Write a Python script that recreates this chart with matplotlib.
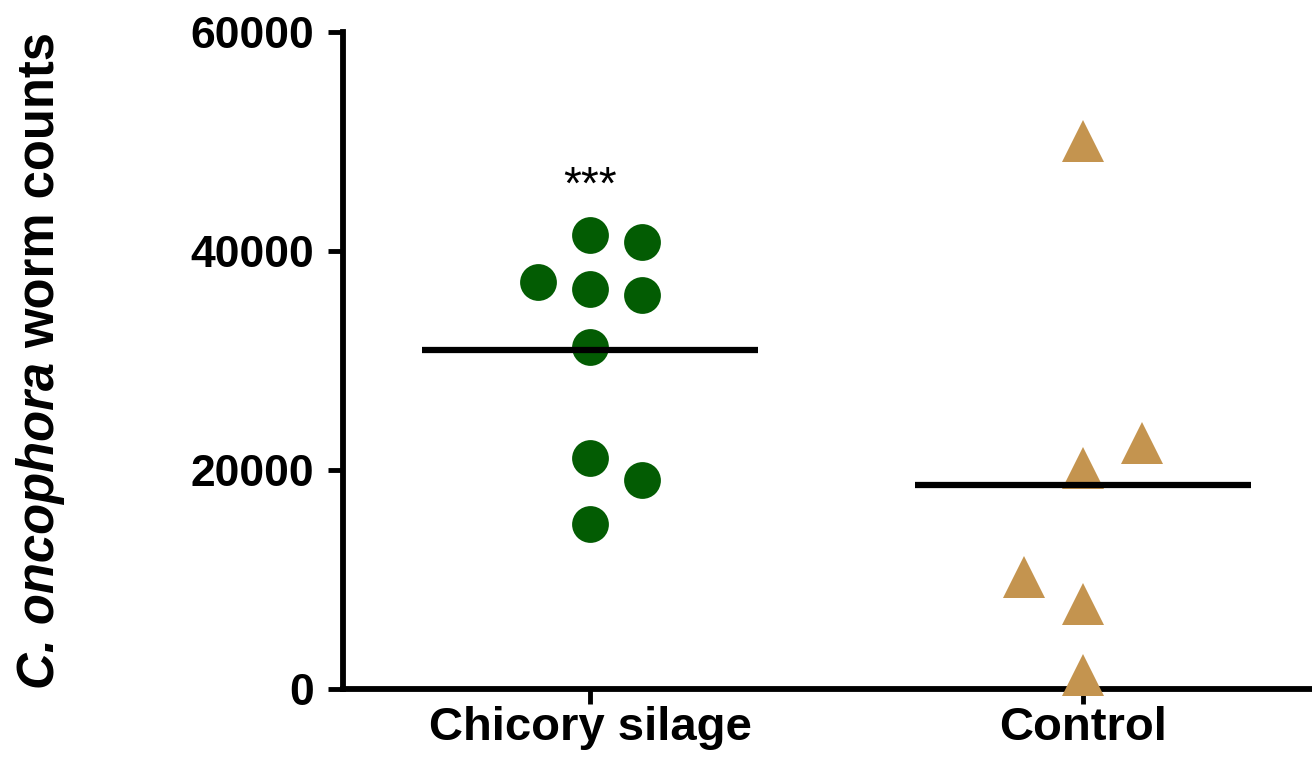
import matplotlib
matplotlib.use("Agg")
import matplotlib.pyplot as plt
import numpy as np

# ---- data ----
categories = ["Chicory silage", "Control"]
chicory_counts = [41400, 40800, 37100, 36500, 36000, 31200, 21100, 19100, 15100]
control_counts = [50000, 22450, 20200, 10200, 7750, 1250]
# column slot of each point in the scatter (beeswarm-like arrangement)
chicory_slots = [0, 1, -1, 0, 1, 0, 0, 1, 0]
control_slots = [0, 1, 0, -1, 0, 0]
yticks = [0, 20000, 40000, 60000]
signif_label = "***"

FONT = "Liberation Sans"
plt.rcParams["font.family"] = [FONT, "DejaVu Sans"]

W, H = 1312, 757
fig = plt.figure(figsize=(W / 100, H / 100), dpi=100)
ax = fig.add_axes([343 / W, 1 - 689 / H, 969 / W, 657.5 / H])

green = "#035c03"
tan = "#c4944f"

groups = [
    (chicory_counts, chicory_slots, "o", 26.5, green, 0.106),
    (control_counts, control_slots, "^", 30.0, tan, 0.119),
]
for i, (vals, slots, mk, ms, col, spacing) in enumerate(groups):
    xs = i + np.array(slots) * spacing
    ax.plot(xs, vals, linestyle="none", marker=mk, markersize=ms,
            color=col, markeredgewidth=0, zorder=3, clip_on=False)
    m = np.mean(vals)
    ax.plot([i - 0.34, i + 0.34], [m, m], color="black", lw=4.5,
            solid_capstyle="butt", zorder=4, clip_on=False)

ax.text(0, 44700, signif_label, ha="center", va="baseline",
        fontsize=33, color="black")

ax.set_xlim(-0.501, 1.4645)
ax.set_ylim(0, 60000)
ax.set_xticks([0, 1])
ax.set_xticklabels(categories, fontsize=34, fontweight="bold")
ax.set_yticks(yticks)
ax.set_yticklabels([str(v) for v in yticks], fontsize=32, fontweight="bold")

for s in ["top", "right"]:
    ax.spines[s].set_visible(False)
for s in ["left", "bottom"]:
    ax.spines[s].set_linewidth(4.2)
    ax.spines[s].set_capstyle("projecting")
ax.tick_params(axis="y", length=11, width=3.5, pad=10, direction="out")
ax.tick_params(axis="x", length=11, width=3.5, pad=1, direction="out")

# y-axis label with italic species name
fig.canvas.draw()
x_base = 54 / W
y0 = 1 - 689 / H
t1 = fig.text(x_base, y0, "C. oncophora", rotation=90, rotation_mode="anchor",
              ha="left", va="baseline", fontsize=36.5, fontweight="bold",
              style="italic")
fig.canvas.draw()
r = fig.canvas.get_renderer()
bb = t1.get_window_extent(renderer=r)
space = 0.28 * 36.5 * 100 / 72
t2 = fig.text(x_base, (bb.y1 + space) / (H), "worm counts", rotation=90,
              rotation_mode="anchor", ha="left", va="baseline", fontsize=36.5,
              fontweight="bold")

fig.savefig("out.png", dpi=100)
